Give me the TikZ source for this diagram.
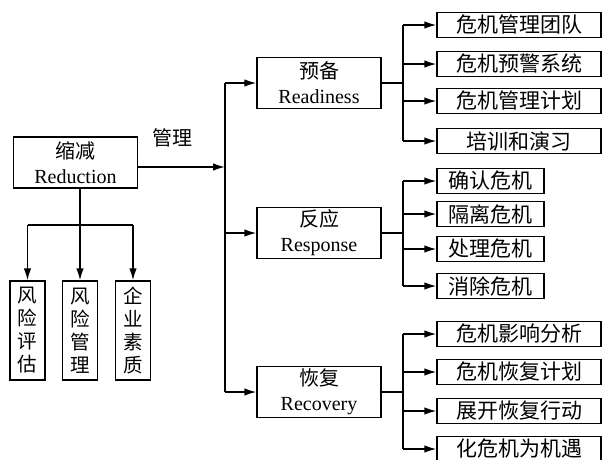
\documentclass[tikz,border=0pt]{standalone}
\usepackage{fontspec}
\setmainfont{Liberation Serif}
\newfontfamily\cjk{Noto Sans CJK SC}
\usetikzlibrary{arrows.meta}
\begin{document}
\begin{tikzpicture}[x=1pt,y=-1pt,
  line width=1.4pt,
  arr/.style={-{Latex[length=12pt,width=7.5pt]}},
  bigbox/.style={draw, minimum width=124pt, minimum height=51pt, inner sep=0pt, align=center, font=\fontsize{20}{25}\selectfont},
  wbox/.style={draw, minimum width=164pt, minimum height=25pt, inner sep=0pt, font=\cjk\fontsize{21}{21}\selectfont},
  nbox/.style={draw, minimum width=107pt, minimum height=25pt, inner sep=0pt, font=\cjk\fontsize{21}{21}\selectfont},
  vbox/.style={draw, minimum width=35pt, minimum height=99pt, inner sep=0pt, align=center, font=\cjk\fontsize{19.5}{23}\selectfont},
  lbl/.style={font=\cjk\fontsize{20}{20}\selectfont, inner sep=0pt}]
\useasboundingbox (0,0) rectangle (602,459);
% main left box
\node[bigbox] (red) at (75.5,162.5) {{\cjk 缩减}\\Reduction};
\node[lbl] (mgmt) at (172,138) {管理};
% three middle boxes
\node[bigbox] (rd) at (319,83) {{\cjk 预备}\\Readiness};
\node[bigbox] (rs) at (319,233) {{\cjk 反应}\\Response};
\node[bigbox] (rc) at (319,392) {{\cjk 恢复}\\Recovery};
% vertical boxes
\node[vbox] (v1) at (27.5,330.5) {风\\险\\评\\估};
\node[vbox] (v2) at (80,330.5) {风\\险\\管\\理};
\node[vbox] (v3) at (133,330.5) {企\\业\\素\\质};
% right boxes: readiness
\node[wbox] (a1) at (519,25) {危机管理团队};
\node[wbox] (a2) at (519,64) {危机预警系统};
\node[wbox] (a3) at (519,101) {危机管理计划};
\node[wbox] (a4) at (519,141) {培训和演习};
% response
\node[nbox] (b1) at (490.5,181) {确认危机};
\node[nbox] (b2) at (490.5,214) {隔离危机};
\node[nbox] (b3) at (490.5,249) {处理危机};
\node[nbox] (b4) at (490.5,286) {消除危机};
% recovery
\node[wbox] (c1) at (519,334) {危机影响分析};
\node[wbox] (c2) at (519,372) {危机恢复计划};
\node[wbox] (c3) at (519,411) {展开恢复行动};
\node[wbox] (c4) at (519,449) {化危机为机遇};
% coordinates
\coordinate (mt) at (225,83);
\coordinate (mm) at (225,233);
\coordinate (mb) at (225,392);
\coordinate (mr) at (225,167);
\coordinate (rb) at (80,188);
\coordinate (ll) at (27.5,225);
\coordinate (lr) at (133,225);
\coordinate (ja) at (403,83);
\coordinate (jb) at (403,233);
\coordinate (jc) at (403,392);
% connectors
\draw[arr] (red.east |- mr) -- (mr);
\draw (mt) -- (mb);
\draw[arr] (mt) -- (rd.west);
\draw[arr] (mm) -- (rs.west);
\draw[arr] (mb) -- (rc.west);
\draw[arr] (rb) -- (v2.north);
\draw (ll) -- (lr);
\draw[arr] (ll) -- (v1.north);
\draw[arr] (lr) -- (v3.north);
% branches
\draw (rd.east) -- (ja);
\draw (ja |- a1) -- (ja |- a4);
\foreach \n in {a1,a2,a3,a4} \draw[arr] (ja |- \n) -- (\n.west);
\draw (rs.east) -- (jb);
\draw (jb |- b1) -- (jb |- b4);
\foreach \n in {b1,b2,b3,b4} \draw[arr] (jb |- \n) -- (\n.west);
\draw (rc.east) -- (jc);
\draw (jc |- c1) -- (jc |- c4);
\foreach \n in {c1,c2,c3,c4} \draw[arr] (jc |- \n) -- (\n.west);
\end{tikzpicture}
\end{document}
